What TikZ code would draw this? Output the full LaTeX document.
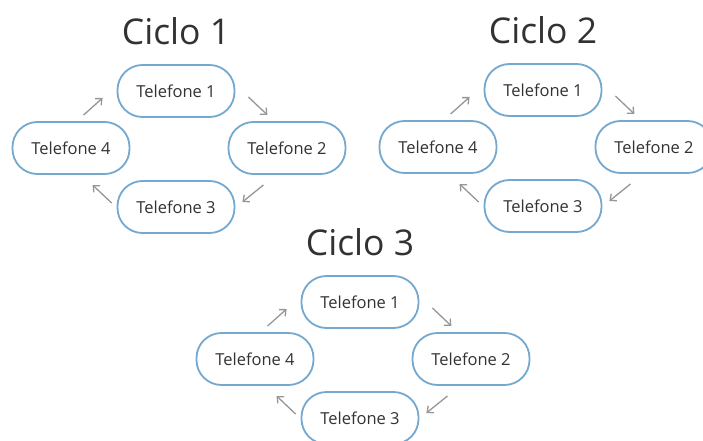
\documentclass[tikz,border=0pt]{standalone}
\usepackage{fontspec}
\setmainfont{Open Sans}
\usepackage{xcolor}
\usepackage{tikz}
\usetikzlibrary{arrows.meta,positioning,calc}

\definecolor{boxblue}{RGB}{116,168,206}
\definecolor{txtgray}{RGB}{50,50,50}
\definecolor{arrgray}{RGB}{150,150,150}

\tikzset{
  phone/.style={draw=boxblue,line width=1.8pt,rounded corners=25pt,
    minimum width=117pt,minimum height=52pt,text=txtgray,
    font=\fontsize{16.5}{19}\selectfont},
  cyctitle/.style={text=txtgray,font=\fontsize{35.5}{40}\selectfont},
  flow/.style={arrgray,line width=1.3pt,-{Straight Barb[length=5pt,width=9pt]}}
}

\begin{document}
\begin{tikzpicture}[x=1pt,y=-1pt]
  \useasboundingbox (0,0) rectangle (703,441);
  \clip (0,0) rectangle (703,441);
  \foreach \c/\x/\y in {1/176/91,2/543/90,3/360/302}{
    \node[phone] (c\c-t1) at (\x,\y) {Telefone 1};
    \node[phone] (c\c-t2) at (\x+111,\y+57) {Telefone 2};
    \node[phone] (c\c-t3) at (\x,\y+116) {Telefone 3};
    \node[phone] (c\c-t4) at (\x-105,\y+57) {Telefone 4};
    \node[cyctitle] (c\c-title) at (\x,\y-60) {Ciclo \c};
    % arrows of the cycle
    \draw[flow] ($(c\c-t1.west)+(-33,24)$) -- ($(c\c-t1.west)+(-14,7)$);
    \draw[flow] ($(c\c-t1.east)+(13,6)$) -- ($(c\c-t1.east)+(32,24)$);
    \draw[flow] ($(c\c-t3.east)+(28,-22)$) -- ($(c\c-t3.east)+(7,-5)$);
    \draw[flow] ($(c\c-t3.west)+(-5,-4)$) -- ($(c\c-t3.west)+(-24,-22)$);
  }
\end{tikzpicture}
\end{document}
